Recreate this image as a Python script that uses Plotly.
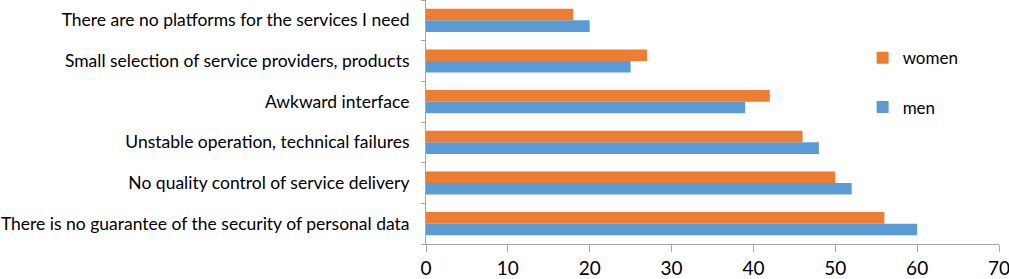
import plotly.graph_objects as go

categories = [
    "There is no guarantee of the security of personal data",
    "No quality control of service delivery",
    "Unstable operation, technical failures",
    "Awkward interface",
    "Small selection of service providers, products",
    "There are no platforms for the services I need",
]
men = [60, 52, 48, 39, 25, 20]
women = [56, 50, 46, 42, 27, 18]
x_ticks = [0, 10, 20, 30, 40, 50, 60, 70]

FONT = "Lato"
fig = go.Figure()
fig.add_trace(go.Bar(y=categories, x=men, name="men", orientation="h",
                     marker=dict(color="#5B9BD5", line=dict(width=0)),
                     legendgroup="m", legendrank=2))
fig.add_trace(go.Bar(y=categories, x=women, name="women", orientation="h",
                     marker=dict(color="#ED7D31", line=dict(width=0)),
                     legendgroup="w", legendrank=1))

fig.update_layout(
    width=1009, height=279,
    margin=dict(l=426, r=10, t=0, b=35, autoexpand=False),
    paper_bgcolor="white", plot_bgcolor="white",
    barmode="group", bargap=0.43, bargroupgap=0,
    font=dict(family=FONT, color="#000000", size=17),
    legend=dict(x=0.762, y=0.835, xanchor="left", yanchor="top",
                traceorder="grouped", tracegroupgap=24,
                font=dict(size=17, family=FONT), bgcolor="rgba(0,0,0,0)"),
    xaxis=dict(range=[0, 70], tickvals=x_ticks, showgrid=False,
               showline=True, linecolor="#A6A6A6", linewidth=1,
               ticks="outside", ticklen=7, tickcolor="#A6A6A6",
               tickfont=dict(size=19, family=FONT), zeroline=False,
               automargin=False, ticklabelstandoff=0,
               ticklabeloverflow="allow"),
    yaxis=dict(categoryorder="array", categoryarray=categories,
               showline=True, linecolor="#A6A6A6", linewidth=1,
               ticks="outside", ticklen=4, tickcolor="#A6A6A6",
               tickson="boundaries", showgrid=False,
               tickfont=dict(size=17.5, family=FONT), ticklabelstandoff=12,
               automargin=False),
)
fig.write_html("out.html", config={"displayModeBar": False},
               post_script="document.body.style.margin='0';document.body.style.overflow='hidden';")
